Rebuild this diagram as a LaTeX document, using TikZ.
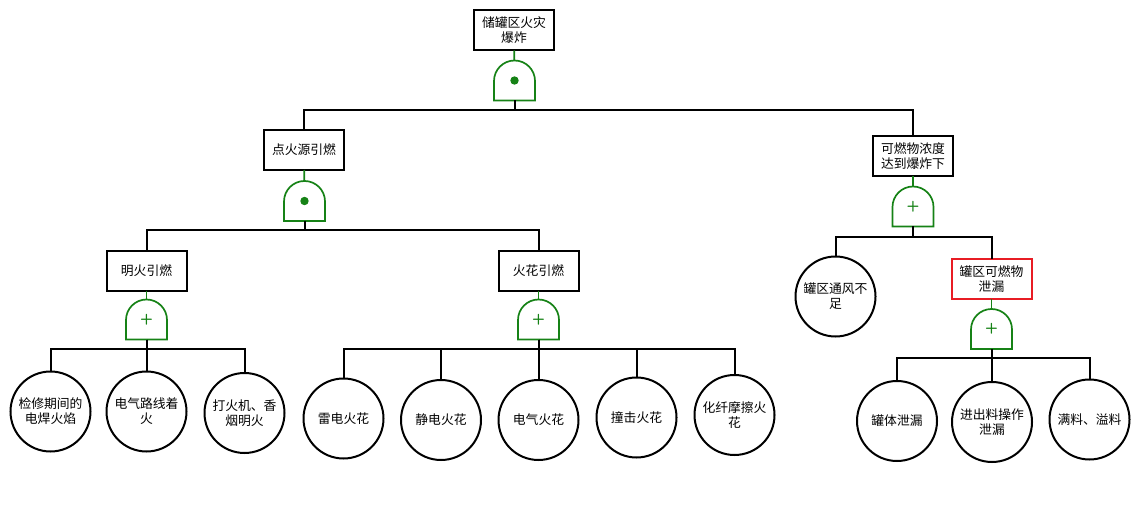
\documentclass[tikz,border=0pt]{standalone}
\usepackage{fontspec}
\setmainfont{Noto Sans CJK SC}
\usetikzlibrary{calc,positioning}
\definecolor{gategreen}{RGB}{22,130,22}
\definecolor{boxred}{RGB}{232,28,36}
\tikzstyle{event}=[
  draw=black,
  font={\fontsize{12.8}{15}\selectfont},
  inner sep=0pt,
  line width=2pt,
  minimum height=40pt,
  minimum width=80pt,
  outer sep=0pt,
  rectangle,
  align=center,
]
\tikzstyle{basic}=[
  draw=black,
  font={\fontsize{12.8}{15}\selectfont},
  inner sep=0pt,
  line width=2pt,
  minimum size=80pt,
  outer sep=0pt,
  circle,
  align=center,
]
\tikzstyle{gate}=[
  font={\sffamily\bfseries\fontsize{15}{15}\selectfont},
  inner sep=0pt,
  minimum height=40pt,
  minimum width=41pt,
  outer sep=0pt,
  rectangle,
  text=gategreen,
]
\tikzstyle{edge}=[
  draw=black,
  line width=2pt,
]
\tikzstyle{gateline}=[
  draw=gategreen,
  line width=1.7pt,
]
\newcommand{\gateoutline}[1]{%
  \draw [gateline] (#1.south west) -- ($(#1.south west)+(0pt,19.5pt)$)
    arc (180:0:20.5pt) -- (#1.south east) -- cycle;
}
\tikzset{
  x=1pt,
  y=-1pt,
}

\begin{document}
\begin{tikzpicture}
    \useasboundingbox (0,0) rectangle (1139,521);
    \node (fire) [event] at (514,30.5) {储罐区火灾\\爆炸};
    \node (gfire) [gate] at (514.5,80.5) {};
    \node (ignition) [event] at (304,150) {点火源引燃};
    \node (gignition) [gate] at (304.5,201) {};
    \node (conc) [event] at (913,156.5) {可燃物浓度\\达到爆炸下};
    \node (gconc) [gate, below=10pt of conc] {+};
    \node (flame) [event] at (146.5,270.5) {明火引燃};
    \node (gflame) [gate, below=9pt of flame] {+};
    \node (spark) [event] at (538.5,270.5) {火花引燃};
    \node (gspark) [gate, below=9pt of spark] {+};
    \node (vent) [basic] at (835.5,296.5) {罐区通风不\\足};
    \node (leak) [event, draw=boxred] at (991.5,279) {罐区可燃物\\泄漏};
    \node (gleak) [gate, below=10pt of leak] {+};
    \node (weld) [basic] at (50.5,411.5) {检修期间的\\电焊火焰};
    \node (wire) [basic] at (146.5,411.5) {电气路线着\\火};
    \node (smoke) [basic] at (244.5,413) {打火机、香\\烟明火};
    \node (thunder) [basic] at (343.5,418.5) {雷电火花};
    \node (static) [basic] at (441,420) {静电火花};
    \node (elec) [basic] at (538.5,420) {电气火花};
    \node (impact) [basic] at (636.5,417.5) {撞击火花};
    \node (fiber) [basic] at (734.5,415) {化纤摩擦火\\花};
    \node (tank) [basic] at (897,421) {罐体泄漏};
    \node (feed) [basic] at (992,422) {进出料操作\\泄漏};
    \node (over) [basic] at (1089.5,419.5) {满料、溢料};
    \foreach \g in {gfire,gignition,gconc,gflame,gspark,gleak}
      \gateoutline{\g};
    \fill [gategreen] (gfire) circle (4.2pt);
    \fill [gategreen] (gignition) circle (4.2pt);
    \draw [gateline] (fire) -- (gfire);
    \draw [gateline] (ignition) -- (gignition);
    \draw [gateline] (conc) -- (gconc);
    \draw [gateline] (flame) -- (gflame);
    \draw [gateline] (spark) -- (gspark);
    \draw [gateline] (leak) -- (gleak);
    \foreach \c in {ignition,conc}
      \draw [edge] (gfire.south) -- ++(0,10) -| (\c.north);
    \foreach \c in {flame,spark}
      \draw [edge] (gignition.south) -- ++(0,9) -| (\c.north);
    \foreach \c in {vent,leak}
      \draw [edge] (gconc.south) -- ++(0,10) -| (\c.north);
    \foreach \c in {weld,wire,smoke}
      \draw [edge] (gflame.south) -- ++(0,9) -| (\c.north);
    \foreach \c in {thunder,static,elec,impact,fiber}
      \draw [edge] (gspark.south) -- ++(0,9) -| (\c.north);
    \foreach \c in {tank,feed,over}
      \draw [edge] (gleak.south) -- ++(0,9) -| (\c.north);
  \end{tikzpicture}
\end{document}
